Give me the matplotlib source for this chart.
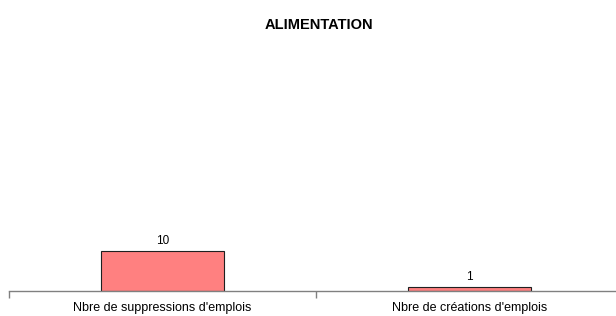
import matplotlib
matplotlib.use("Agg")
import matplotlib.pyplot as plt

categories = ["Nbre de suppressions d'emplois", "Nbre de créations d'emplois"]
values = [10, 1]
title = "ALIMENTATION"

plt.rcParams['font.family'] = ['Liberation Sans', 'DejaVu Sans']

fig = plt.figure(figsize=(6.16, 3.16), dpi=100)
# plot area: x from 9px to 623px (clipped by figure), baseline at y=291px
ax = fig.add_axes([9 / 616, (316 - 291) / 316, 614 / 616, 240 / 316])

x = range(len(categories))
bars = ax.bar(x, values, width=0.40, color='#FF8080', edgecolor='#202020', linewidth=0.8)
for b, v in zip(bars, values):
    ax.text(b.get_x() + b.get_width() / 2, v + 1.0, str(v), ha='center', va='bottom', fontsize=8.5)

ax.set_xlim(-0.5, len(categories) - 0.5)
ax.set_ylim(0, 60)
ax.set_xticks([i - 0.5 for i in range(len(categories) + 1)])
ax.set_xticklabels([])
ax.set_xticks(list(x), minor=True)
ax.set_xticklabels(categories, minor=True, fontsize=9)
ax.tick_params(axis='x', which='major', direction='out', length=5, color='#808080', width=1)
ax.tick_params(axis='x', which='minor', length=0, pad=8)
ax.set_yticks([])
for s in ['top', 'right', 'left']:
    ax.spines[s].set_visible(False)
ax.spines['bottom'].set_color('#808080')
ax.spines['bottom'].set_linewidth(1)

fig.text(319 / 616, 1 - 25 / 316, title, ha='center', va='center', fontsize=10.5, fontweight='bold')

fig.savefig("out.png", dpi=100)
